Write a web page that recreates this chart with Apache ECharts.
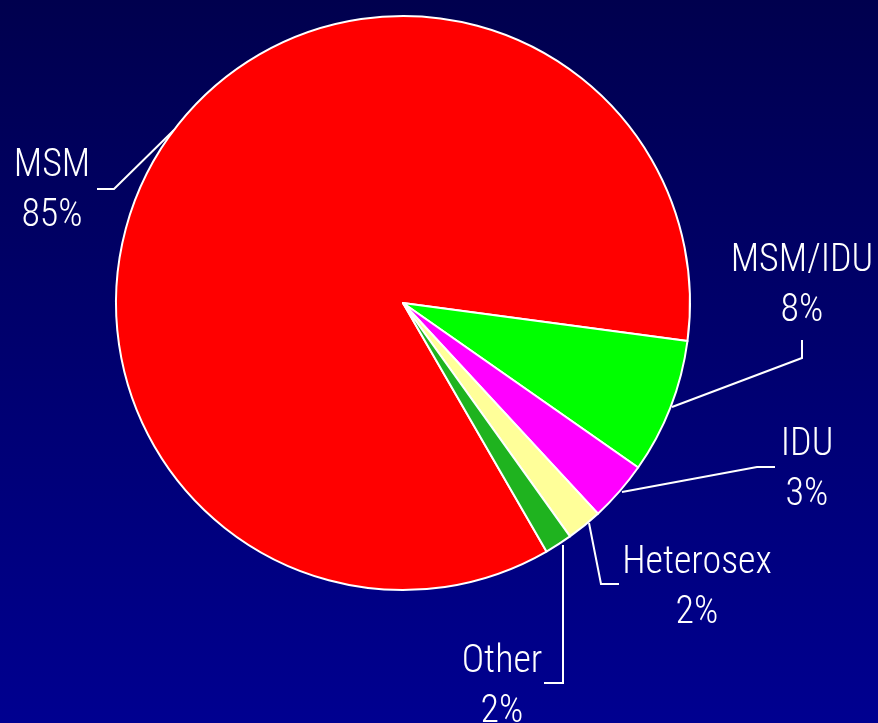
<!DOCTYPE html>
<html>
<head>
<meta charset="utf-8">
<script src="https://cdn.jsdelivr.net/npm/echarts@6/dist/echarts.min.js"></script>
<style>
html,body{margin:0;padding:0;width:878px;height:723px;overflow:hidden;}
#chart{width:878px;height:723px;}
</style>
</head>
<body>
<div id="chart"></div>
<script>
// Data
const categories = ["MSM", "MSM/IDU", "IDU", "Heterosex", "Other"];
const values = [85.45, 7.6, 3.4, 2.0, 1.55];
const colors = ["#FF0000", "#00FF00", "#FF00FF", "#FFFF99", "#1FB31F"];

// Label layout (positions of label centers and leader-line points)
const labelCenters = [[52, 191], [802, 286], [807, 470], [697, 588], [502, 687]];
const leaderPoints = [
  [[174, 130], [114, 189], [97, 189]],
  [[672, 407], [802, 358], [802, 340]],
  [[622, 492], [757, 467], [775, 467]],
  [[589, 523], [601, 584], [619, 584]],
  [[563, 545], [563, 683], [544, 683]]
];

const chart = echarts.init(document.getElementById('chart'), null, {renderer: 'canvas'});
chart.setOption({
  backgroundColor: {
    type: 'linear', x: 0, y: 0, x2: 0, y2: 1,
    colorStops: [{offset: 0, color: '#00004E'}, {offset: 1, color: '#000090'}]
  },
  animation: false,
  series: [{
    type: 'pie',
    center: [403, 303],
    radius: [0, 287],
    startAngle: -60,
    clockwise: true,
    avoidLabelOverlap: false,
    itemStyle: {borderColor: '#FFFFFF', borderWidth: 2},
    label: {
      show: true,
      color: '#FFFFFF',
      fontFamily: '"Roboto Condensed", "Liberation Sans Narrow", "Arial Narrow", sans-serif',
      fontSize: 38,
      fontWeight: 300,
      lineHeight: 50,
      align: 'center',
      formatter: p => p.name + '\n' + Math.round(p.value) + '%'
    },
    labelLine: {show: true, lineStyle: {color: '#FFFFFF', width: 2}, smooth: false},
    labelLayout: function (params) {
      const i = params.dataIndex;
      return {
        x: labelCenters[i][0],
        y: labelCenters[i][1],
        align: 'center',
        verticalAlign: 'middle',
        labelLinePoints: leaderPoints[i]
      };
    },
    emphasis: {disabled: true},
    data: categories.map((c, i) => ({name: c, value: values[i], itemStyle: {color: colors[i]}}))
  }]
});
</script>
</body>
</html>
